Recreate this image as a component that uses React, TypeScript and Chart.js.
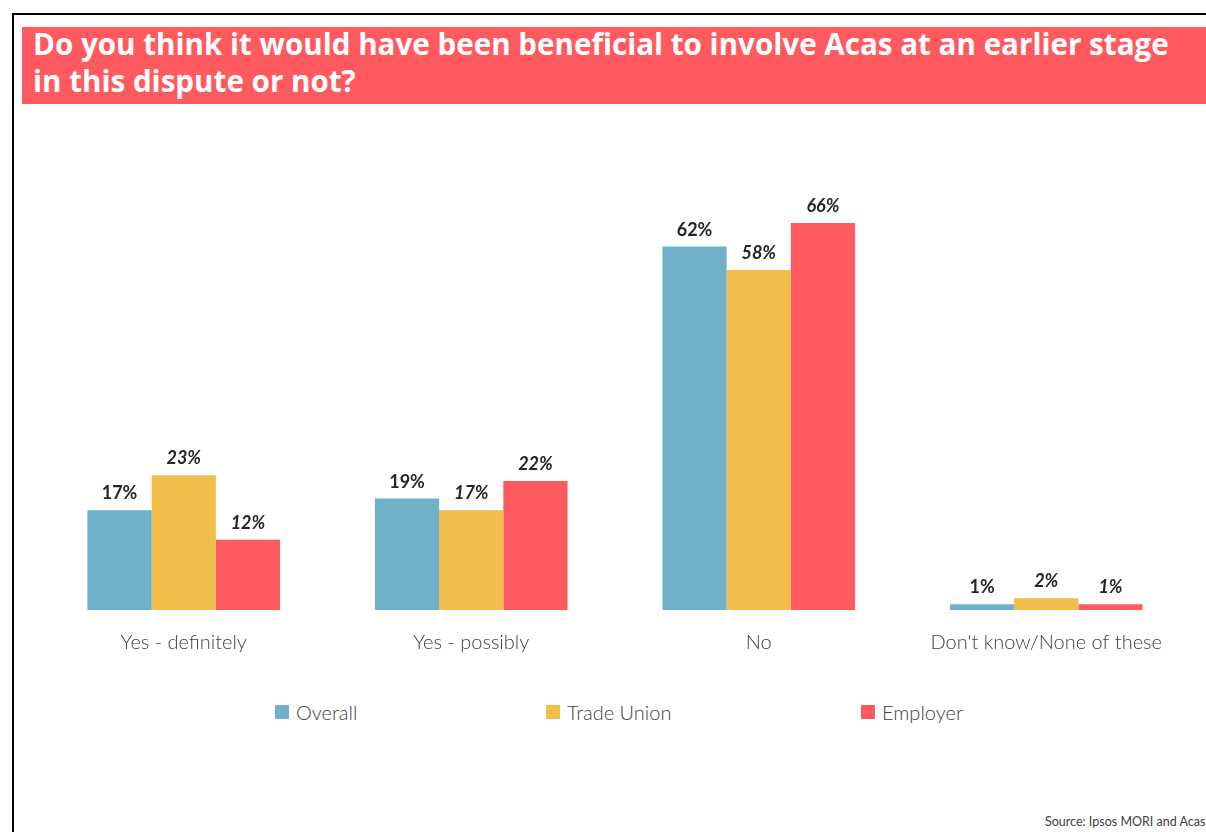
import React, { useEffect, useRef } from "react";
import { Chart, registerables } from "chart.js";

Chart.register(...registerables);

const categories = ["Yes - definitely", "Yes - possibly", "No", "Don't know/None of these"];
const seriesNames = ["Overall", "Trade Union", "Employer"];
const overallValues = [17, 19, 62, 1];
const tradeUnionValues = [23, 17, 58, 2];
const employerValues = [12, 22, 66, 1];
const seriesColors = ["#71B0C9", "#F1BD4B", "#FF5A5F"];
const titleLines = [
  "Do you think it would have been beneficial to involve Acas at an earlier stage",
  "in this dispute or not?",
];
const sourceText = "Source: Ipsos MORI and Acas";

const FONT = "Lato, 'Open Sans', sans-serif";

const valueLabelPlugin = {
  id: "valueLabels",
  afterDatasetsDraw(chart: any) {
    const ctx = chart.ctx;
    ctx.save();
    chart.data.datasets.forEach((ds: any, di: number) => {
      const meta = chart.getDatasetMeta(di);
      meta.data.forEach((el: any, i: number) => {
        const v = ds.data[i];
        ctx.font = (di === 0 ? "" : "italic ") + "bold 18px " + FONT;
        ctx.fillStyle = "#262626";
        ctx.textAlign = "center";
        ctx.textBaseline = "alphabetic";
        ctx.fillText(v + "%", el.x, el.y - 11);
      });
    });
    ctx.restore();
  },
};

export default function App() {
  const canvasRef = useRef<HTMLCanvasElement | null>(null);

  useEffect(() => {
    if (!canvasRef.current) return;
    const datasets = [overallValues, tradeUnionValues, employerValues].map((vals, i) => ({
      label: seriesNames[i],
      data: vals,
      backgroundColor: seriesColors[i],
      borderWidth: 0,
      categoryPercentage: 0.67,
      barPercentage: 1.0,
    }));
    const chart = new Chart(canvasRef.current, {
      type: "bar",
      data: { labels: categories, datasets },
      options: {
        responsive: false,
        animation: false,
        layout: { padding: { left: 40, right: 16, top: 141, bottom: 6 } },
        plugins: {
          legend: { display: false },
          tooltip: { enabled: false },
        },
        scales: {
          x: {
            grid: { display: false },
            border: { display: false },
            ticks: {
              padding: 13,
              color: "#404040",
              font: { family: FONT, size: 20, weight: "300" },
              maxRotation: 0,
              autoSkip: false,
            },
          },
          y: {
            display: false,
            min: 0,
            max: 80,
          },
        },
      },
      plugins: [valueLabelPlugin],
    });
    return () => chart.destroy();
  }, []);

  return (
    <div
      style={{
        position: "fixed",
        left: 0,
        top: 0,
        width: 1206,
        height: 832,
        overflow: "hidden",
        background: "#fff",
        fontFamily: FONT,
      }}
    >
      <div
        style={{
          position: "absolute",
          left: 12,
          top: 13,
          width: 1300,
          height: 900,
          borderTop: "2px solid #000",
          borderLeft: "2px solid #000",
        }}
      />
      <div
        style={{
          position: "absolute",
          left: 22,
          top: 27,
          width: 1184,
          height: 77,
          background: "#FF5A5F",
        }}
      />
      <div
        style={{
          position: "absolute",
          left: 33,
          top: 25,
          color: "#fff",
          fontFamily: "'Open Sans', sans-serif",
          fontWeight: 700,
          fontSize: 29.6,
          lineHeight: "37px",
          whiteSpace: "nowrap",
        }}
      >
        {titleLines.map((t, i) => (
          <div key={i}>{t}</div>
        ))}
      </div>
      <canvas
        ref={canvasRef}
        width={1206}
        height={674}
        style={{ position: "absolute", left: 0, top: 0, width: 1206, height: 674 }}
      />
      {seriesNames.map((name, i) => {
        const xs = [275, 546, 861];
        return (
          <div
            key={name}
            style={{
              position: "absolute",
              left: xs[i],
              top: 699,
              height: 26,
              display: "flex",
              alignItems: "center",
              whiteSpace: "nowrap",
              fontSize: 20,
              fontWeight: 300,
              color: "#404040",
            }}
          >
            <span
              style={{
                display: "inline-block",
                width: 14,
                height: 14,
                background: seriesColors[i],
                marginRight: 7,
              }}
            />
            <span>{name}</span>
          </div>
        );
      })}
      <div
        style={{
          position: "absolute",
          left: 1045,
          top: 814,
          fontSize: 12.5,
          color: "#404040",
          whiteSpace: "nowrap",
        }}
      >
        {sourceText}
      </div>
    </div>
  );
}
